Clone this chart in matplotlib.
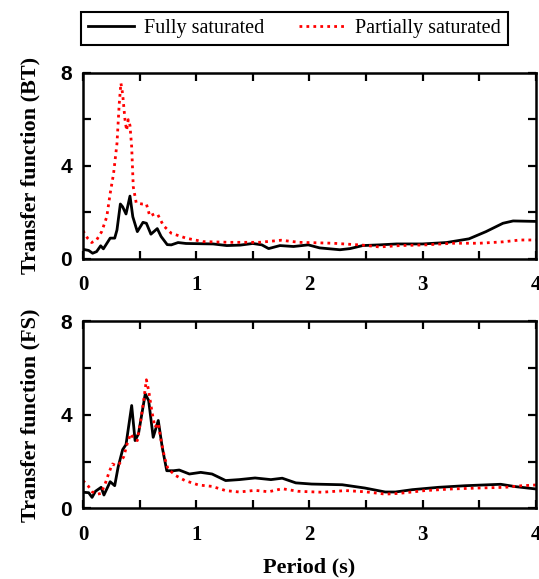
import matplotlib
matplotlib.use('Agg')
import matplotlib.pyplot as plt

# Top panel (BT) - fully saturated
bt_full_t = [0.0, 0.05, 0.085, 0.12, 0.156, 0.18, 0.24, 0.28, 0.30, 0.33, 0.35, 0.38, 0.415, 0.44,
             0.48, 0.53, 0.56, 0.60, 0.656, 0.69, 0.744, 0.78, 0.84, 0.91, 1.15, 1.27, 1.39, 1.5,
             1.58, 1.64, 1.74, 1.86, 1.99, 2.09, 2.27, 2.36, 2.47, 2.62, 2.77, 3.0, 3.21, 3.41,
             3.56, 3.71, 3.8, 4.0]
bt_full_v = [0.41, 0.36, 0.24, 0.31, 0.56, 0.43, 0.89, 0.89, 1.24, 2.36, 2.24, 1.93, 2.7, 1.81,
             1.17, 1.57, 1.53, 1.06, 1.3, 0.96, 0.61, 0.6, 0.7, 0.66, 0.64, 0.57, 0.59, 0.66,
             0.6, 0.44, 0.57, 0.53, 0.6, 0.47, 0.39, 0.44, 0.57, 0.6, 0.64, 0.64, 0.7, 0.86,
             1.17, 1.53, 1.63, 1.61]

# Top panel (BT) - partially saturated
bt_part_t = [0.0, 0.04, 0.076, 0.12, 0.165, 0.21, 0.24, 0.27, 0.30, 0.32, 0.335, 0.35, 0.37,
             0.385, 0.40, 0.415, 0.43, 0.444, 0.47, 0.52, 0.56, 0.59, 0.63, 0.66, 0.71, 0.78,
             0.91, 1.06, 1.3, 1.56, 1.75, 1.91, 2.21, 2.47, 2.62, 2.8, 3.03, 3.27, 3.5, 3.71,
             3.86, 4.0]
bt_part_v = [1.21, 0.89, 0.7, 0.81, 1.17, 1.81, 2.81, 3.67, 4.96, 6.67, 7.56, 7.1, 6.03, 5.53,
             5.99, 5.74, 4.81, 3.1, 2.41, 2.36, 2.36, 1.84, 1.93, 1.91, 1.43, 1.1, 0.89, 0.74,
             0.71, 0.71, 0.8, 0.71, 0.67, 0.59, 0.51, 0.57, 0.6, 0.67, 0.67, 0.73, 0.81, 0.81]

# Bottom panel (FS) - fully saturated
fs_full_t = [0.0, 0.05, 0.08, 0.11, 0.16, 0.185, 0.24, 0.28, 0.31, 0.35, 0.38, 0.43, 0.46, 0.49,
             0.55, 0.58, 0.62, 0.665, 0.70, 0.74, 0.80, 0.85, 0.94, 1.04, 1.14, 1.26, 1.38,
             1.52, 1.66, 1.76, 1.88, 2.02, 2.29, 2.49, 2.67, 2.76, 2.91, 3.14, 3.38, 3.69,
             3.82, 4.0]
fs_full_v = [0.69, 0.67, 0.47, 0.73, 0.9, 0.57, 1.14, 0.97, 1.76, 2.51, 2.73, 4.4, 2.9, 3.19,
             4.9, 4.61, 3.04, 3.76, 2.61, 1.61, 1.61, 1.64, 1.47, 1.54, 1.47, 1.19, 1.23,
             1.3, 1.23, 1.29, 1.09, 1.04, 1.01, 0.87, 0.7, 0.7, 0.8, 0.9, 0.97, 1.03,
             0.93, 0.83]

# Bottom panel (FS) - partially saturated
fs_part_t = [0.0, 0.05, 0.08, 0.13, 0.16, 0.20, 0.23, 0.26, 0.29, 0.32, 0.36, 0.39, 0.42, 0.45,
             0.48, 0.51, 0.54, 0.56, 0.58, 0.61, 0.635, 0.665, 0.69, 0.72, 0.75, 0.82, 0.90,
             1.02, 1.14, 1.26, 1.38, 1.52, 1.64, 1.76, 1.9, 2.11, 2.32, 2.49, 2.67, 2.79,
             3.02, 3.26, 3.49, 3.73, 3.85, 4.0]
fs_part_v = [1.19, 0.93, 0.71, 0.61, 0.64, 1.11, 1.54, 1.9, 1.83, 1.9, 2.21, 2.76, 3.19, 2.97,
             2.9, 3.76, 4.76, 5.5, 5.04, 4.11, 3.47, 3.64, 2.9, 2.19, 1.69, 1.4, 1.19,
             1.0, 0.94, 0.76, 0.7, 0.77, 0.71, 0.84, 0.73, 0.69, 0.76, 0.71, 0.61, 0.64,
             0.76, 0.83, 0.87, 0.9, 0.96, 1.0]

x_ticks = [0, 0.5, 1, 1.5, 2, 2.5, 3, 3.5, 4]
x_labels = ['0', '', '1', '', '2', '', '3', '', '4']
y_ticks = [0, 2, 4, 6, 8]
y_labels = ['0', '', '4', '', '8']

serif = 'Liberation Serif'
sans = 'Liberation Sans'


def style_axes(ax, ylabel, show_xlabel):
    ax.set_xlim(0, 4)
    ax.set_ylim(0, 8)
    ax.set_xticks(x_ticks, labels=x_labels, fontfamily=serif, fontweight='bold', fontsize=15)
    ax.set_yticks(y_ticks, labels=y_labels, fontfamily=sans, fontweight='bold', fontsize=15)
    ax.tick_params(direction='in', length=6, width=1.6, top=True, right=True)
    ax.tick_params(axis='x', pad=12)
    ax.tick_params(axis='y', pad=8)
    for sp in ax.spines.values():
        sp.set_linewidth(1.8)
    ax.set_ylabel(ylabel, fontfamily=serif, fontweight='bold', fontsize=16, labelpad=14)
    if show_xlabel:
        ax.set_xlabel('Period (s)', fontfamily=serif, fontweight='bold', fontsize=16, labelpad=9)


fig = plt.figure(figsize=(5.39, 5.79), dpi=100)
ax1 = fig.add_axes([0.154, 0.553, 0.840, 0.321])
ax2 = fig.add_axes([0.154, 0.122, 0.840, 0.323])

l1, = ax1.plot(bt_full_t, bt_full_v, color='black', linewidth=2.0, label='Fully saturated')
l2, = ax1.plot(bt_part_t, bt_part_v, color='red', linewidth=2.0, linestyle=(0, (1, 1.5)),
               label='Partially saturated')
ax2.plot(fs_full_t, fs_full_v, color='black', linewidth=2.0)
ax2.plot(fs_part_t, fs_part_v, color='red', linewidth=2.0, linestyle=(0, (1, 1.5)))

style_axes(ax1, 'Transfer function (BT)', False)
style_axes(ax2, 'Transfer function (FS)', True)

leg = fig.legend(handles=[l1, l2], loc='center', bbox_to_anchor=(0.546, 0.951), ncol=2,
                 frameon=True, fancybox=False, edgecolor='black', framealpha=1,
                 prop={'family': serif, 'size': 14.5}, handlelength=2.3, columnspacing=1.7,
                 borderpad=0.35, handletextpad=0.5)
leg.get_frame().set_linewidth(1.5)

fig.savefig('out.png', dpi=100)
